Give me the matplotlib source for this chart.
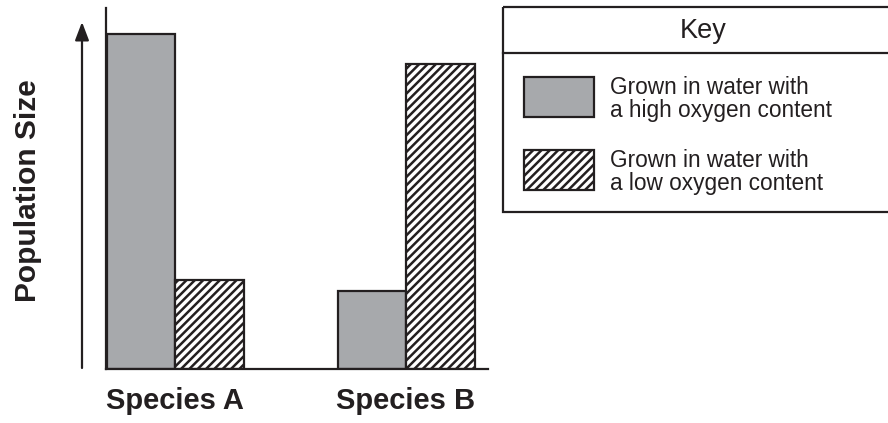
import matplotlib
matplotlib.use("Agg")
import matplotlib.pyplot as plt
from matplotlib.patches import Rectangle

plt.rcParams['font.family'] = ['Liberation Sans', 'DejaVu Sans']
plt.rcParams['hatch.linewidth'] = 1.8
plt.rcParams['hatch.color'] = '#231f20'

# data (population size, arbitrary units)
species = ["Species A", "Species B"]
high_oxygen = [335, 78]
low_oxygen = [89, 305]
key_labels = ["Grown in water with\na high oxygen content",
              "Grown in water with\na low oxygen content"]

INK = '#231f20'
GRAY = '#a7a9ac'

fig = plt.figure(figsize=(8.88, 4.23), dpi=100)
ax = fig.add_axes([106 / 888, 1 - 369 / 423, 382 / 888, 361 / 423])

centers = [69, 300]
width = 68.5
ax.bar([c - width / 2 for c in centers], high_oxygen, width=width,
       color=GRAY, edgecolor=INK, linewidth=1.6)
ax.bar([c + width / 2 for c in centers], low_oxygen, width=width,
       color='white', edgecolor=INK, linewidth=1.6, hatch='////')

ax.set_xlim(0, 382)
ax.set_ylim(0, 361)
for s in ['top', 'right']:
    ax.spines[s].set_visible(False)
for s in ['left', 'bottom']:
    ax.spines[s].set_linewidth(1.6)
    ax.spines[s].set_color(INK)
ax.set_yticks([])
ax.set_xticks(centers)
ax.set_xticklabels(species, fontsize=21, fontweight='bold', color=INK)
ax.tick_params(axis='x', length=0, pad=13)

# y label and arrow
fig.text(28 / 888, 1 - 191 / 423, "Population Size", rotation=90,
         fontsize=21.5, fontweight='bold', color=INK, ha='center', va='center')
ax.annotate('', xy=(82, 423 - 22), xytext=(82, 423 - 368),
            xycoords='figure pixels', textcoords='figure pixels',
            arrowprops=dict(arrowstyle='-|>,head_length=1.1,head_width=0.42',
                            lw=1.6, color=INK, shrinkA=0, shrinkB=0))

# key box
kax = fig.add_axes([503 / 888, 1 - 212 / 423, 399 / 888, 205 / 423])
kax.set_xlim(503, 902)
kax.set_ylim(212, 7)
kax.axis('off')
kax.add_patch(Rectangle((503, 7), 399, 205, fill=False, edgecolor=INK,
                        linewidth=1.6, clip_on=False))
kax.plot([503, 902], [53, 53], color=INK, lw=1.6, clip_on=False)
kax.text(703, 31, "Key", fontsize=19.5, ha='center', va='center', color=INK)

kax.add_patch(Rectangle((524, 77), 70, 40, facecolor=GRAY, edgecolor=INK,
                        linewidth=1.6))
kax.add_patch(Rectangle((524, 150), 70, 40, facecolor='white', edgecolor=INK,
                        linewidth=1.6, hatch='////'))
kax.text(610, 99, key_labels[0], fontsize=16.3, ha='left', va='center',
         color=INK, linespacing=1.0)
kax.text(610, 172, key_labels[1], fontsize=16.3, ha='left', va='center',
         color=INK, linespacing=1.0)

fig.savefig("out.png", dpi=100)
